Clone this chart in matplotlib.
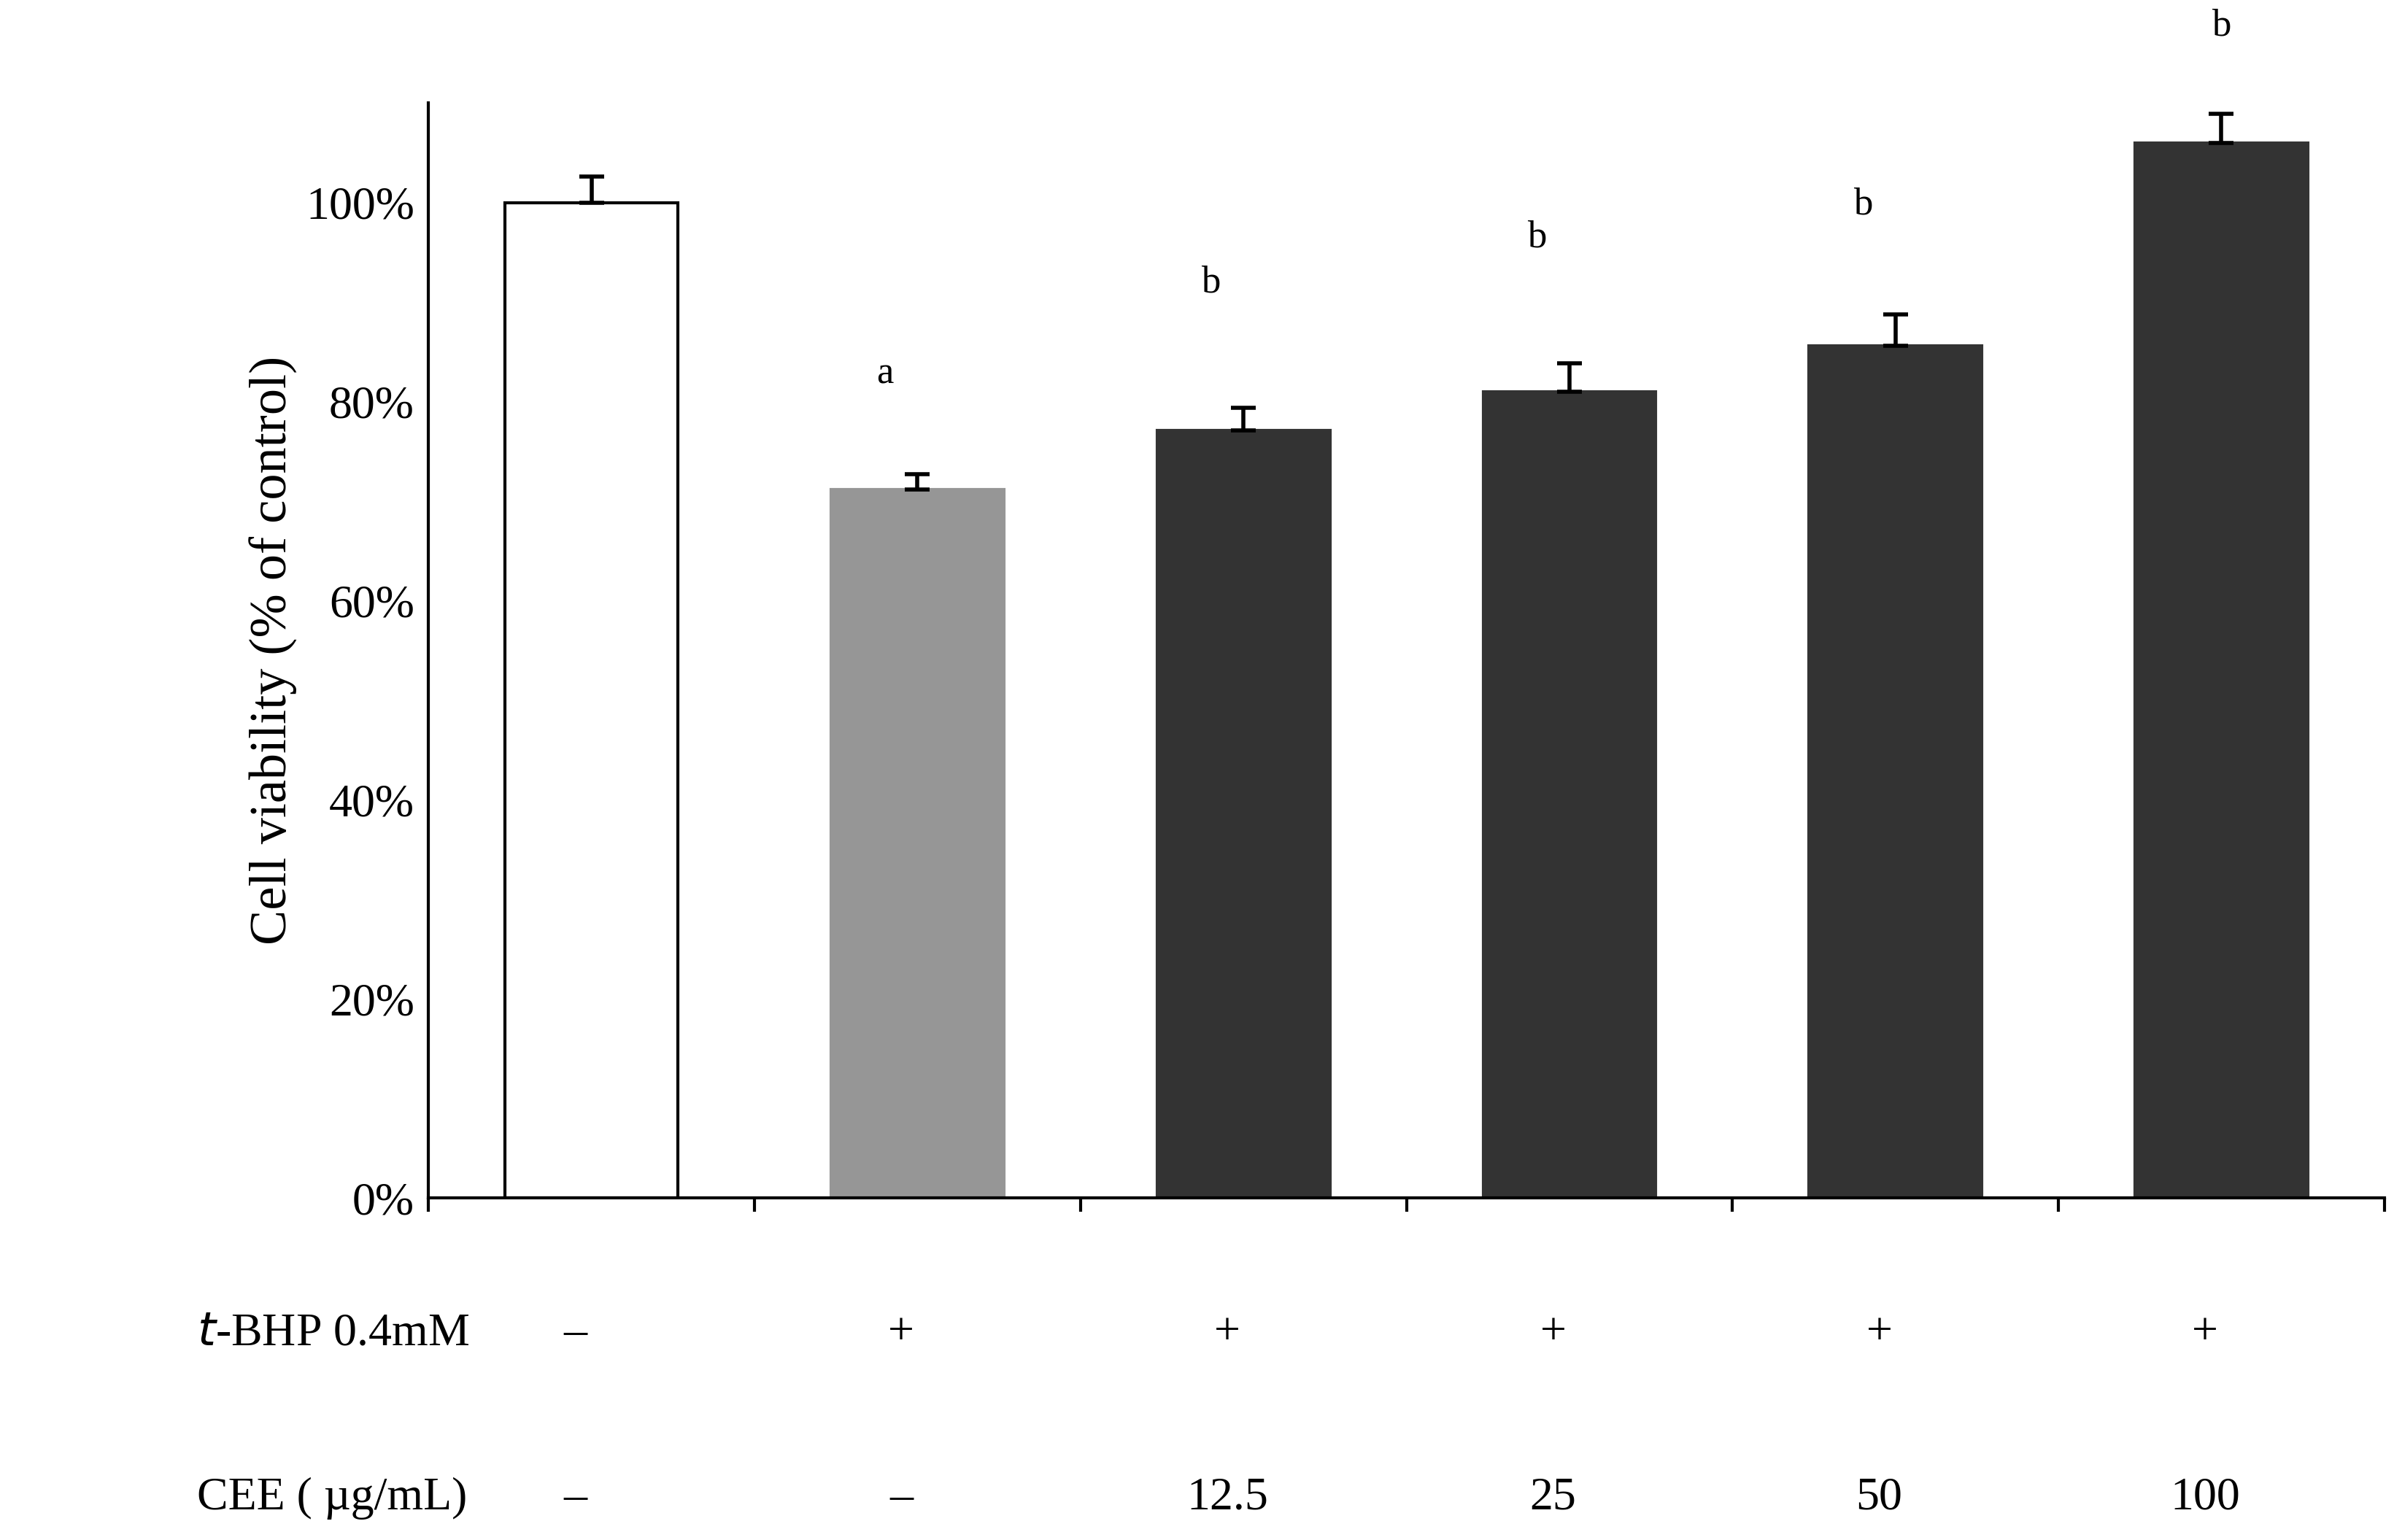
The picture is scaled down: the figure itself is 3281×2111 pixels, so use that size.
import matplotlib
matplotlib.use("Agg")
import matplotlib.pyplot as plt
from matplotlib.ticker import FuncFormatter

plt.rcParams['font.family'] = ['Liberation Serif', 'DejaVu Serif']

values = [100, 71.2, 77.1, 81.0, 85.6, 106.0]
errors = [2.6, 1.5, 2.3, 2.9, 3.2, 2.9]
colors = ['white', '#969696', '#333333', '#333333', '#333333', '#333333']
letters = ['', 'a', 'b', 'b', 'b', 'b']
letter_y = [0, 82.8, 92.0, 96.5, 99.8, 117.8]
tbhp = ['–', '+', '+', '+', '+', '+']
cee = ['–', '–', '12.5', '25', '50', '100']

fig = plt.figure(figsize=(32.81, 21.11), dpi=100)
ax = fig.add_axes([0.179, 0.222, 0.817, 0.711])
x = list(range(len(values)))
ax.bar(x, values, width=0.53, color=colors, edgecolor=['black', '#969696'] + ['#333333'] * 4, linewidth=3)
ax.errorbar(x, values, yerr=[[0] * 6, errors], fmt='none', ecolor='black', elinewidth=4, capsize=12, capthick=4)
for xi, l, ly in zip(x, letters, letter_y):
    if l:
        ax.text(xi - 0.1 if xi < 5 else xi, ly, l, ha='center', va='center', fontsize=38, clip_on=False)
ax.set_xlim(-0.5, 5.5)
ax.set_ylim(0, 110)
ax.set_yticks([0, 20, 40, 60, 80, 100])
ax.yaxis.set_major_formatter(FuncFormatter(lambda v, p: f"{int(v)}%"))
ax.set_xticks([i - 0.5 for i in range(7)])
ax.set_xticklabels([])
ax.tick_params(axis='both', labelsize=46, width=3, length=14)
ax.tick_params(axis='y', length=0, pad=14)
ax.spines['top'].set_visible(False)
ax.spines['right'].set_visible(False)
ax.spines['left'].set_linewidth(3)
ax.spines['bottom'].set_linewidth(3)
ax.set_ylabel('Cell viability (% of control)', fontsize=52, labelpad=8)

trans = ax.get_xaxis_transform()
ax.text(-1.21, -0.124, r'$\it{t}$-BHP 0.4mM', transform=trans, fontsize=46, ha='left', va='center', clip_on=False)
ax.text(-1.21, -0.274, 'CEE ( µg/mL)', transform=trans, fontsize=46, ha='left', va='center', clip_on=False)
for xi, a, b in zip(x, tbhp, cee):
    ax.text(xi - 0.05, -0.124, a, transform=trans, fontsize=46, ha='center', va='center')
    ax.text(xi - 0.05, -0.274, b, transform=trans, fontsize=46, ha='center', va='center')

fig.savefig('out.png', dpi=100)
